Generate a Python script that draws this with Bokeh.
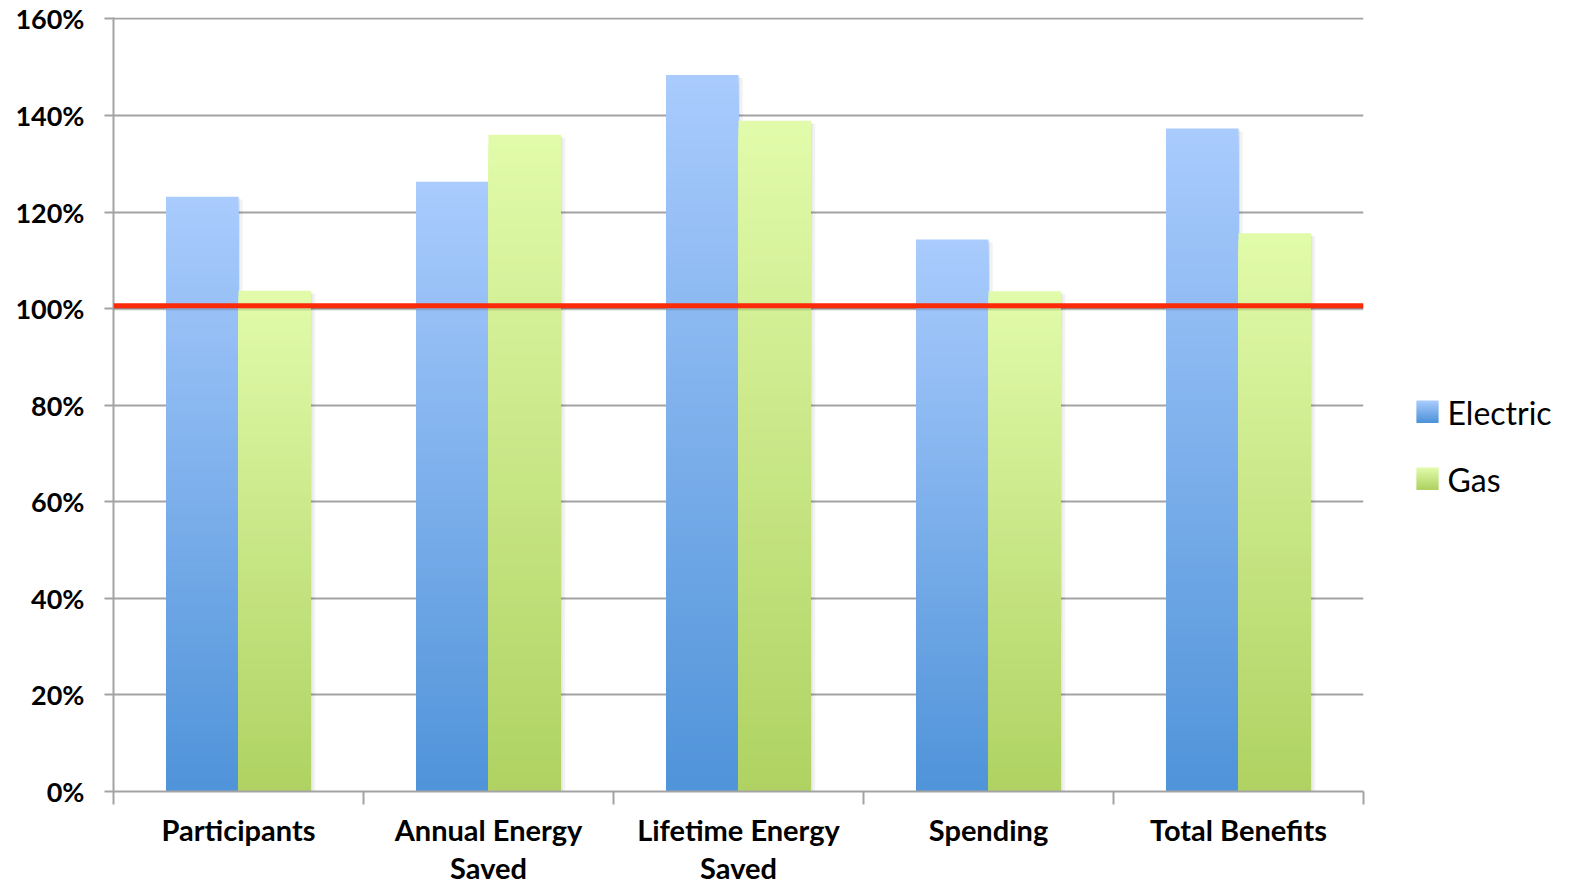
import numpy as np
from bokeh.plotting import figure
from bokeh.layouts import row
from bokeh.models import FixedTicker, Span, Range1d
from bokeh.core.properties import value
from bokeh.embed import file_html
from bokeh.resources import INLINE

# --- data -------------------------------------------------------------
categories = ["Participants", "Annual Energy\nSaved", "Lifetime Energy\nSaved",
              "Spending", "Total Benefits"]
electric = [123.2, 126.3, 148.4, 114.3, 137.3]
gas = [103.7, 136.0, 138.9, 103.6, 115.6]
series_names = ["Electric", "Gas"]
y_ticks = [0, 20, 40, 60, 80, 100, 120, 140, 160]
y_tick_labels = ["0%", "20%", "40%", "60%", "80%", "100%", "120%", "140%", "160%"]
target = 100.6

# --- styling ----------------------------------------------------------
FONT = "Lato"
GRID = "#a3a3a3"
BLUE_TOP, BLUE_BOTTOM = "#a9cbfd", "#4f93d9"
GREEN_TOP, GREEN_BOTTOM = "#e1fbaa", "#afd262"
BAR_W = 0.29
STEPS = 90
TOP_PAD, BOTTOM_PAD, FRAME_H = 17, 99, 774


def mix(c1, c2, t):
    a = np.array([int(c1[i:i + 2], 16) for i in (1, 3, 5)], dtype=float)
    b = np.array([int(c2[i:i + 2], 16) for i in (1, 3, 5)], dtype=float)
    c = a + (b - a) * t
    return "#%02x%02x%02x" % tuple(int(round(v)) for v in c)


p = figure(width=1366, height=890, output_backend="svg", toolbar_location=None,
           frame_width=1250, frame_height=FRAME_H,
           x_range=Range1d(0, 5), y_range=Range1d(0, 160.3),
           min_border_left=113, min_border_right=3, min_border_top=TOP_PAD,
           min_border_bottom=BOTTOM_PAD)
p.outline_line_color = None
p.background_fill_color = "white"
p.border_fill_color = "white"

centers = np.arange(len(categories)) + 0.5


def gradient_bars(xs, values, top_col, bottom_col):
    # paint tall-to-short so each bar fades from light (top) to dark (bottom)
    for k in range(STEPS):
        frac = 1.0 - k / STEPS
        tops = [v * frac for v in values]
        color = mix(bottom_col, top_col, frac)
        p.vbar(x=list(xs), top=tops, bottom=0, width=BAR_W,
               fill_color=color, line_color=None)


# soft drop shadows behind the bars
for xs, vals in ((centers - BAR_W / 2, electric), (centers + BAR_W / 2, gas)):
    p.vbar(x=list(xs + 0.012), top=[v - 0.6 for v in vals], bottom=0,
           width=BAR_W + 0.01, fill_color="black", fill_alpha=0.05, line_color=None)
    p.vbar(x=list(xs + 0.006), top=[v - 0.3 for v in vals], bottom=0,
           width=BAR_W, fill_color="black", fill_alpha=0.06, line_color=None)

gradient_bars(centers - BAR_W / 2, electric, BLUE_TOP, BLUE_BOTTOM)
gradient_bars(centers + BAR_W / 2, gas, GREEN_TOP, GREEN_BOTTOM)

# 100% reference line with a faint shadow
p.add_layout(Span(location=target - 0.35, dimension="width", line_color="black",
                  line_alpha=0.12, line_width=6))
p.add_layout(Span(location=target, dimension="width", line_color="#fb2a08",
                  line_width=5))

# axes
p.yaxis.ticker = FixedTicker(ticks=y_ticks)
p.yaxis.major_label_overrides = {t: l for t, l in zip(y_ticks, y_tick_labels)}
p.yaxis.major_label_text_font = FONT
p.yaxis.major_label_text_font_style = "bold"
p.yaxis.major_label_text_font_size = "27px"
p.yaxis.major_label_text_color = "black"
p.yaxis.major_tick_out = 9
p.yaxis.major_tick_in = 0
p.yaxis.minor_tick_out = 0
p.yaxis.minor_tick_in = 0
p.yaxis.major_label_standoff = 20
p.yaxis.axis_line_color = GRID
p.yaxis.axis_line_width = 2
p.yaxis.major_tick_line_color = GRID
p.yaxis.major_tick_line_width = 2

p.xaxis.ticker = FixedTicker(ticks=list(centers), minor_ticks=list(range(len(categories) + 1)))
p.xaxis.major_label_overrides = {float(c): l for c, l in zip(centers, categories)}
p.xaxis.major_label_text_font = FONT
p.xaxis.major_label_text_font_style = "bold"
p.xaxis.major_label_text_font_size = "29px"
p.xaxis.major_label_text_color = "black"
p.xaxis.major_label_text_line_height = 1.1
p.xaxis.major_tick_out = 0
p.xaxis.major_tick_in = 0
p.xaxis.minor_tick_out = 13
p.xaxis.minor_tick_in = 0
p.xaxis.minor_tick_line_color = GRID
p.xaxis.minor_tick_line_width = 2
p.xaxis.major_label_standoff = 7
p.xaxis.axis_line_color = GRID
p.xaxis.axis_line_width = 2

p.xgrid.grid_line_color = None
p.ygrid.grid_line_color = GRID
p.ygrid.grid_line_width = 2

# --- legend panel: gradient swatches with series names --------------------
# its frame shares the main frame's vertical extent; y runs in page pixels
leg = figure(width=213, height=890, output_backend="svg", toolbar_location=None,
             frame_width=213, frame_height=FRAME_H,
             x_range=Range1d(0, 213),
             y_range=Range1d(TOP_PAD + FRAME_H, TOP_PAD),
             min_border_left=0, min_border_right=0, min_border_top=TOP_PAD,
             min_border_bottom=BOTTOM_PAD, x_axis_type=None, y_axis_type=None)
leg.outline_line_color = None
leg.grid.visible = False
leg.background_fill_color = "white"
leg.border_fill_color = "white"

SW_X, SW_SIZE, ROW_Y, ROW_GAP = 50, 22, 400, 67
for i, (name, top_col, bottom_col) in enumerate(
        zip(series_names, (BLUE_TOP, GREEN_TOP), (BLUE_BOTTOM, GREEN_BOTTOM))):
    y0 = ROW_Y + i * ROW_GAP
    n = 22
    tops = [y0 + SW_SIZE * k / n for k in range(n)]
    bottoms = [y0 + SW_SIZE * (k + 1) / n + 0.4 for k in range(n)]
    cols = [mix(top_col, bottom_col, k / (n - 1)) for k in range(n)]
    leg.quad(left=SW_X, right=SW_X + SW_SIZE, top=tops, bottom=bottoms,
             fill_color=cols, line_color=None)
    leg.text(x=[SW_X + SW_SIZE + 9], y=[y0 + SW_SIZE / 2 + 1], text=[name],
             text_font=value(FONT), text_font_size="32px", text_color="black",
             text_baseline="middle", text_align="left")

layout = row(p, leg, spacing=0)
open("out.html", "w").write(file_html(layout, INLINE))
